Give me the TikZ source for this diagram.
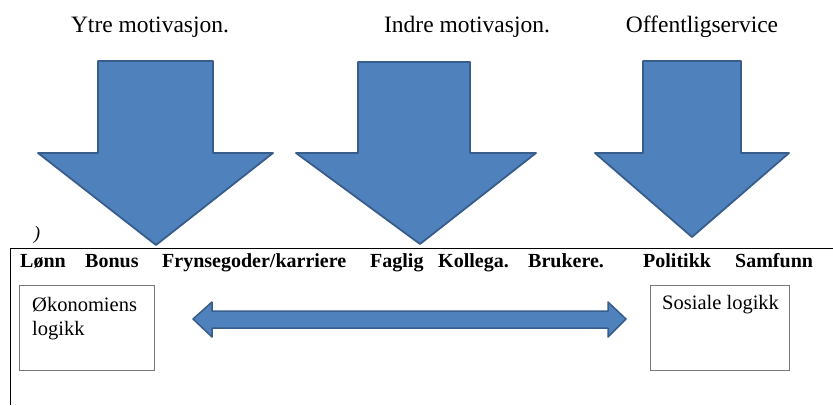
\documentclass[tikz,border=0pt]{standalone}
\usepackage{fontspec}
\setmainfont{Liberation Serif}
\begin{document}
\begin{tikzpicture}[x=1pt,y=-1pt,
  bigarrow/.style={fill={rgb,255:red,79;green,129;blue,189}, draw={rgb,255:red,56;green,93;blue,138}, line width=1.8pt, line join=round},
  titletext/.style={font=\fontsize{23.5}{26}\selectfont, inner sep=0pt, anchor=base},
  labeltext/.style={font=\fontsize{20}{22}\selectfont\bfseries, inner sep=0pt, anchor=base west},
  logicbox/.style={draw={rgb,255:red,120;green,120;blue,120}, line width=0.8pt},
  boxtext/.style={font=\fontsize{20.5}{22}\selectfont, inner sep=0pt, anchor=base west}]
\useasboundingbox (0,0) rectangle (833,405);
% titles
\node[titletext] (t1) at (150,32) {Ytre motivasjon.};
\node[titletext] (t2) at (467,32) {Indre motivasjon.};
\node[titletext] (t3) at (702,32) {Offentligservice};
% down arrows
\draw[bigarrow] (98,61) -- (213,61) -- (213,153) -- (273,153) -- (156,245) -- (38,153) -- (98,153) -- cycle;
\draw[bigarrow] (358,62) -- (470,62) -- (470,153) -- (536,153) -- (420,244) -- (296,153) -- (358,153) -- cycle;
\draw[bigarrow] (643,61) -- (741,61) -- (741,153) -- (789,153) -- (692,237) -- (595,153) -- (643,153) -- cycle;
% frame
\draw[line width=1pt] (10,405) -- (10,248) -- (833,248);
\node[font=\fontsize{19}{21}\selectfont\itshape, inner sep=0pt] (paren) at (37,235) {)};
% labels
\node[labeltext] (l1) at (20,267) {Lønn};
\node[labeltext] (l2) at (85,267) {Bonus};
\node[labeltext] (l3) at (162,267) {Frynsegoder/karriere};
\node[labeltext] (l4) at (370,267) {Faglig};
\node[labeltext] (l5) at (438,267) {Kollega.};
\node[labeltext] (l6) at (528,267) {Brukere.};
\node[labeltext] (l7) at (643,267) {Politikk};
\node[labeltext] (l8) at (735,267) {Samfunn};
% boxes
\draw[logicbox] (19,285) rectangle (154,370);
\node[boxtext] (b1) at (32,311) {Økonomiens};
\node[boxtext] (b1b) at (32,335) {logikk};
\draw[logicbox] (650,285) rectangle (789,370);
\node[boxtext] (b2) at (662,309) {Sosiale logikk};
% double arrow
\draw[bigarrow, line width=1.5pt] (193,319) -- (212,302) -- (212,311) -- (608,311) -- (608,302) -- (626,319) -- (608,337) -- (608,328) -- (212,328) -- (212,337) -- cycle;
\end{tikzpicture}
\end{document}
